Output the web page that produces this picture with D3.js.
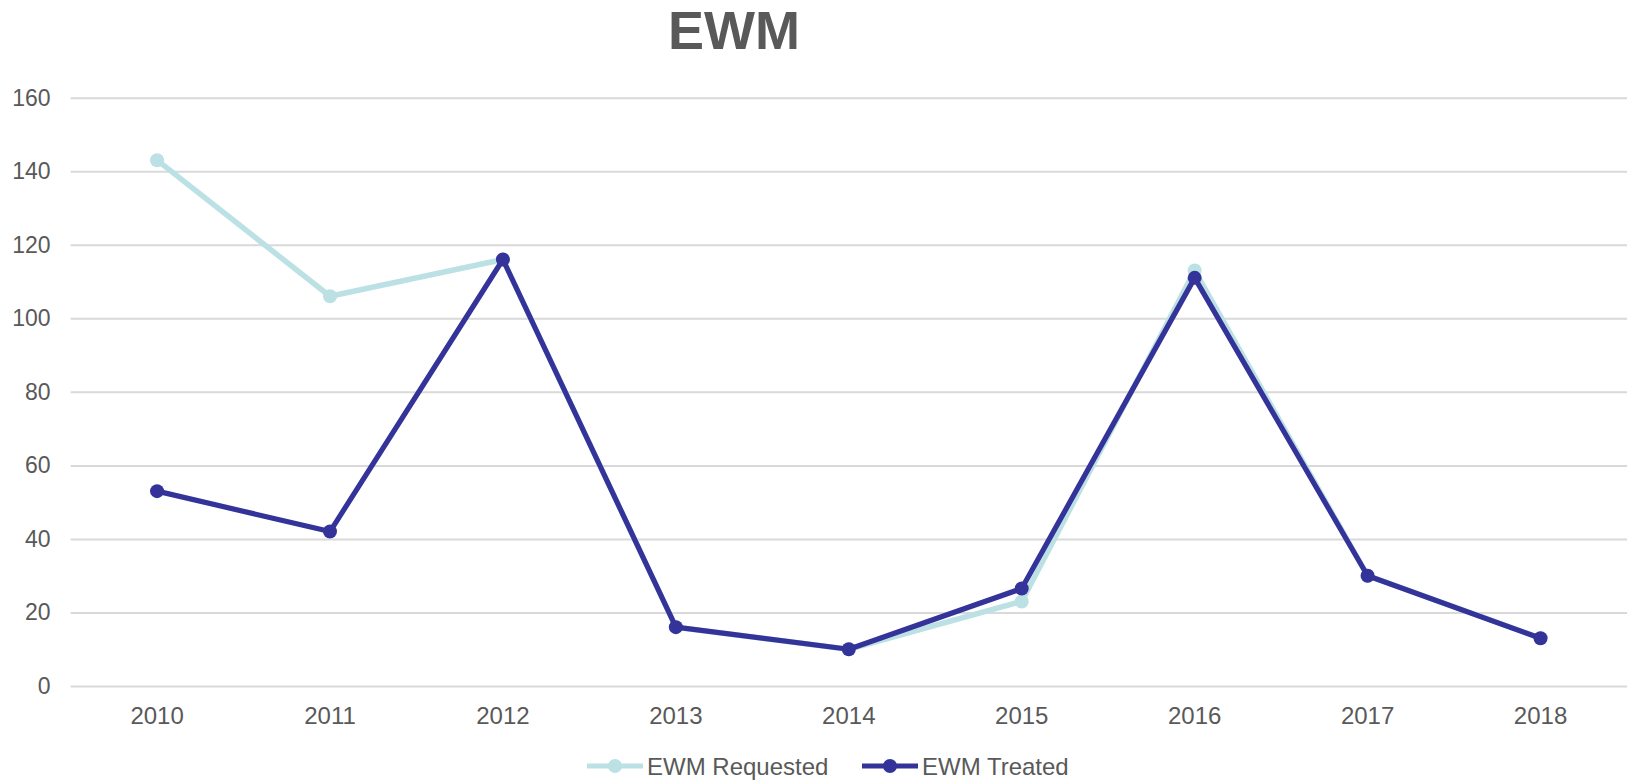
<!DOCTYPE html>
<html><head><meta charset="utf-8">
<script src="https://cdn.jsdelivr.net/npm/d3@7"></script>
<style>body{margin:0;background:#fff;}svg{display:block;font-family:"Liberation Sans",Arial,sans-serif;}</style>
</head><body>
<svg id="c" width="1632" height="783"></svg>
<script>
const years = ["2010","2011","2012","2013","2014","2015","2016","2017","2018"];
const requested = [143,106,116,16,10,23,113,30,13];
const treated = [53,42,116,16,10,26.5,111,30,13];
const yTicks = [0,20,40,60,80,100,120,140,160];
const seriesNames = ["EWM Requested","EWM Treated"];
const colors = ["#BCE1E4","#333399"];

(function(){
const svg = d3.select("#c");
const pL = 70.6, pR = 1627, pT = 97.7, pB = 686;
const x = d3.scaleBand().domain(years).range([pL,pR]);
const y = d3.scaleLinear().domain([0,160]).range([pB,pT]);
const txt = "#595959";

svg.append("text").attr("x",734).attr("y",49).attr("text-anchor","middle")
  .attr("font-size",54).attr("font-weight","bold").attr("fill",txt).text("EWM");

const yAxis = svg.append("g").attr("transform",`translate(${pL},0)`)
  .call(d3.axisLeft(y).tickValues(yTicks).tickSize(-(pR-pL)).tickPadding(20).tickFormat(d3.format("d")));
yAxis.select(".domain").remove();
yAxis.selectAll("line").attr("stroke","#D9D9D9").attr("stroke-width",2);
yAxis.selectAll("text").attr("fill",txt).attr("font-size",23).attr("font-family","Liberation Sans, Arial, sans-serif");

const xAxis = svg.append("g").attr("transform",`translate(0,${pB})`)
  .call(d3.axisBottom(x).tickSize(0).tickPadding(21));
xAxis.select(".domain").remove();
xAxis.selectAll("text").attr("fill",txt).attr("font-size",24).attr("font-family","Liberation Sans, Arial, sans-serif");

const line = d3.line().x((d,i)=>x(years[i])+x.bandwidth()/2).y(d=>y(d));
[requested,treated].forEach((s,k)=>{
  svg.append("path").datum(s).attr("d",line).attr("fill","none")
    .attr("stroke",colors[k]).attr("stroke-width",k===0?5.5:5.2).attr("stroke-linejoin","round");
  svg.append("g").selectAll("circle").data(s).join("circle")
    .attr("cx",(d,i)=>x(years[i])+x.bandwidth()/2).attr("cy",d=>y(d)).attr("r",7).attr("fill",colors[k]);
});

const legendX = [587,862];
seriesNames.forEach((n,k)=>{
  const g = svg.append("g").attr("transform",`translate(${legendX[k]},766)`);
  g.append("line").attr("x1",0).attr("x2",56).attr("stroke",colors[k]).attr("stroke-width",5);
  g.append("circle").attr("cx",28).attr("r",7).attr("fill",colors[k]);
  g.append("text").attr("x",60).attr("y",8.5).attr("font-size",24).attr("fill",txt).text(n);
});
})();
</script>
</body></html>
